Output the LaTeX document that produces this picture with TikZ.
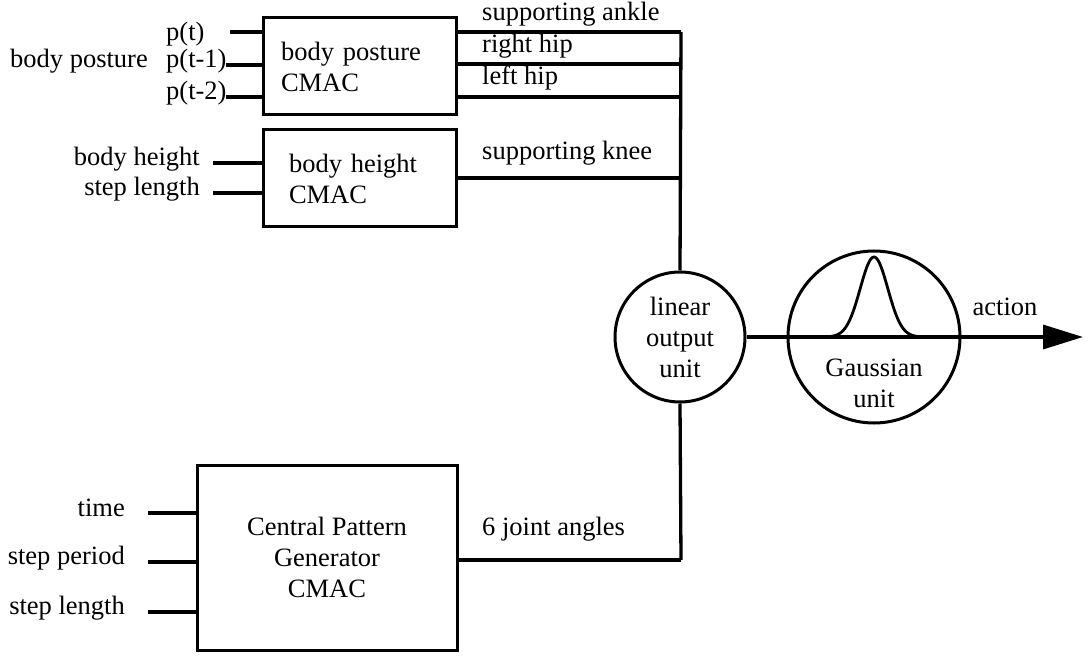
\documentclass[tikz,border=0pt]{standalone}
\usepackage{fontspec}
\setmainfont{Liberation Serif}
\usetikzlibrary{arrows.meta}
\begin{document}
\begin{tikzpicture}[x=1pt,y=-1pt,
  every node/.style={font=\fontsize{26.5}{31}\selectfont},
  wire/.style={line width=3.3pt},
  box/.style={draw,line width=3pt,inner ysep=0pt},
  unit/.style={draw,circle,line width=3pt,inner sep=0pt,align=center},
  lbl/.style={inner sep=0pt,text height=0.68em,text depth=0.22em}]
\useasboundingbox (0,0) rectangle (1090,660);
% boxes
\node[box,minimum width=193pt,minimum height=97pt,inner xsep=18pt,text width=157pt,align=left] (bp) at (359.5,66.5) {body posture\\CMAC};
\node[box,minimum width=193pt,minimum height=97pt,inner xsep=26pt,text width=141pt,align=left] (bh) at (359.5,178.5) {body height\\CMAC};
\node[box,minimum width=260pt,minimum height=185pt,inner sep=0pt,align=center] (cpg) at (327,557.5) {Central Pattern\\Generator\\CMAC};
% units
\node[unit,minimum size=130pt] (lin) at (680,337) {linear\\output\\unit};
\node[unit,minimum size=172pt] (gau) at (874,337) {};
\node[inner sep=0pt,align=center] (gaut) at (874,383) {Gaussian\\unit};
% input labels
\node[lbl,anchor=west] (lpt) at (166,38) {p(t)};
\node[lbl,anchor=west] (lpt1) at (166,65) {p(t-1)};
\node[lbl,anchor=west] (lpt2) at (166,97) {p(t-2)};
\node[lbl,anchor=east] (lbp) at (148,65) {body posture};
\node[lbl,anchor=east] (lbhin) at (200,163) {body height};
\node[lbl,anchor=east] (lslin) at (200,193) {step length};
\node[lbl,anchor=east] (ltime) at (125,514) {time};
\node[lbl,anchor=east] (lsp) at (125,562) {step period};
\node[lbl,anchor=east] (lsl) at (125,612) {step length};
% output labels
\node[lbl,anchor=west] (lank) at (482,18) {supporting ankle};
\node[lbl,anchor=west] (lrh) at (482,50) {right hip};
\node[lbl,anchor=west] (llh) at (482,82) {left hip};
\node[lbl,anchor=west] (lkn) at (482,157) {supporting knee};
\node[lbl,anchor=west] (l6) at (482,533) {6 joint angles};
\node[lbl] (lact) at (1005,313) {action};
% coordinates
\coordinate (i1) at (230,32);
\coordinate (i2) at (226,65);
\coordinate (i3) at (226,97);
\coordinate (i4) at (213,163);
\coordinate (i5) at (213,193);
\coordinate (i6) at (148,513);
\coordinate (i7) at (148,562);
\coordinate (i8) at (148,612);
\coordinate (b1) at (681,32);
\coordinate (b2) at (681,64);
\coordinate (b3) at (681,97);
\coordinate (b4) at (681,178);
\coordinate (b5) at (681,560);
\coordinate (aend) at (1083,337);
% input wires
\draw[wire] (i1) -- (bp.west |- i1);
\draw[wire] (i2) -- (bp.west |- i2);
\draw[wire] (i3) -- (bp.west |- i3);
\draw[wire] (i4) -- (bh.west |- i4);
\draw[wire] (i5) -- (bh.west |- i5);
\draw[wire] (i6) -- (cpg.west |- i6);
\draw[wire] (i7) -- (cpg.west |- i7);
\draw[wire] (i8) -- (cpg.west |- i8);
% output wires
\draw[wire] (bp.east |- b1) -- (b1);
\draw[wire] (bp.east |- b2) -- (b2);
\draw[wire] (bp.east |- b3) -- (b3);
\draw[wire] (bh.east |- b4) -- (b4);
\draw[wire] (cpg.east |- b5) -- (b5);
% bus
\draw[wire] (b1) -- (lin.north);
\draw[wire] (lin.south) -- (b5);
% action
\draw[wire,-{Triangle[length=40pt,width=24pt]}] (lin.east) -- (aend);
% gaussian curve
\draw[line width=2.8pt,line join=round] plot[domain=-55:55,samples=90] ({874+\x},{337-80*exp(-(\x*\x)/(2*190))});
\end{tikzpicture}
\end{document}
